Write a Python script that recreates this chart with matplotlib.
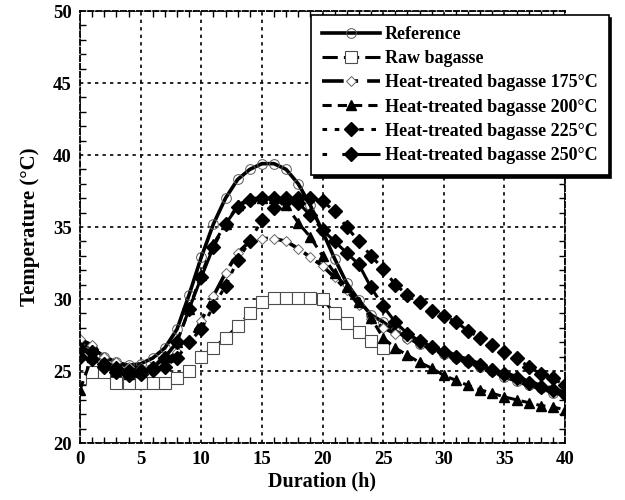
import matplotlib
matplotlib.use('Agg')
import matplotlib.pyplot as plt
from matplotlib.ticker import MultipleLocator

# --- dados ---
hours = list(range(0, 41))

reference = [27.0, 26.6, 26.0, 25.6, 25.4, 25.5, 25.9, 26.6, 27.9, 30.3,
             32.9, 35.2, 37.0, 38.3, 39.0, 39.4, 39.4, 39.0, 38.0, 36.5,
             34.7, 32.8, 31.1, 29.9, 28.9, 28.4, 27.8, 27.3, 26.9, 26.6,
             26.2, 25.9, 25.6, 25.3, 25.0, 24.6, 24.3, 24.0, 23.8, 23.5, 23.3]

raw_hours = list(range(0, 26))
raw = [24.5, 24.9, 24.9, 24.2, 24.2, 24.2, 24.2, 24.2, 24.5, 25.0,
       26.0, 26.6, 27.3, 28.1, 29.0, 29.8, 30.1, 30.1, 30.1, 30.1,
       30.0, 29.0, 28.3, 27.7, 27.1, 26.6]

ht175 = [27.2, 26.8, 26.0, 25.6, 25.3, 25.2, 25.3, 25.7, 26.3, 27.0,
         28.5, 30.2, 31.8, 33.2, 34.0, 34.2, 34.2, 34.0, 33.5, 32.9,
         32.3, 31.5, 30.6, 29.6, 28.6, 28.0, 27.6, 27.2, 26.9, 26.6,
         26.4, 26.1, 25.8, 25.5, 25.2, 24.9, 24.6, 24.3, 24.0, 23.8, 23.5]

ht200 = [23.7, 26.0, 25.5, 25.0, 24.8, 24.9, 25.3, 26.0, 27.0, 29.3,
         31.7, 33.8, 35.2, 36.5, 37.0, 37.0, 37.0, 36.5, 35.3, 34.3,
         33.0, 31.8, 30.8, 29.8, 28.7, 27.3, 26.6, 26.1, 25.6, 25.2,
         24.7, 24.35, 24.0, 23.7, 23.45, 23.2, 23.0, 22.8, 22.6, 22.5, 22.3]

ht225 = [26.5, 26.3, 25.5, 25.2, 25.0, 25.0, 25.1, 25.3, 25.9, 27.0,
         27.9, 29.5, 30.9, 32.7, 34.0, 35.5, 36.3, 36.8, 37.0, 37.0,
         36.8, 36.1, 35.0, 34.0, 33.0, 32.1, 31.0, 30.3, 29.8, 29.2,
         28.85, 28.4, 27.8, 27.3, 26.8, 26.3, 25.9, 25.3, 24.8, 24.5, 24.0]

ht250 = [26.0, 25.8, 25.3, 24.9, 24.7, 24.8, 25.2, 25.9, 27.0, 29.3,
         31.5, 33.6, 35.2, 36.4, 36.9, 37.0, 37.0, 37.0, 36.7, 35.8,
         34.8, 34.0, 33.2, 32.4, 30.8, 29.5, 28.4, 27.6, 27.1, 26.7,
         26.3, 26.0, 25.7, 25.4, 25.1, 24.8, 24.5, 24.2, 23.9, 23.7, 23.4]

plt.rcParams['font.family'] = ['Liberation Serif', 'DejaVu Serif']
plt.rcParams['font.weight'] = 'bold'

fig = plt.figure(figsize=(6.25, 5), dpi=100)
ax = fig.add_axes([0.128, 0.114, 0.776, 0.864])

ax.plot(hours, reference, '-', color='black', lw=2.6, marker='o', ms=7,
        mfc='none', mec='0.35', mew=0.7, label='Reference')
ax.plot(raw_hours, raw, color='black', lw=2.2, ls=(0, (5, 2)), marker='s', ms=8,
        mfc='white', mec='0.3', mew=0.8, label='Raw bagasse')
ax.plot(hours, ht175, color='black', lw=2.6, ls=(0, (6, 2.5, 1.5, 2.5)), marker='D', ms=5.5,
        mfc='white', mec='0.4', mew=0.7, label='Heat-treated bagasse 175°C')
ax.plot(hours, ht200, color='black', lw=2.2, ls=(0, (3, 2)), marker='^', ms=7.5,
        mfc='black', mec='black', label='Heat-treated bagasse 200°C')
ax.plot(hours, ht225, color='black', lw=2.2, ls=(0, (1.5, 2.5)), marker='D', ms=7.5,
        mfc='black', mec='black', label='Heat-treated bagasse 225°C')
ax.plot(hours, ht250, color='black', lw=2.2, ls=(0, (1.5, 5, 30, 0.01)), marker='D', ms=7.5,
        mfc='black', mec='black', label='Heat-treated bagasse 250°C')

ax.set_xlim(0, 40)
ax.set_ylim(20, 50)
ax.xaxis.set_major_locator(MultipleLocator(5))
ax.xaxis.set_minor_locator(MultipleLocator(1))
ax.yaxis.set_major_locator(MultipleLocator(5))
ax.yaxis.set_minor_locator(MultipleLocator(1))
ax.tick_params(which='both', direction='in', top=True, right=True, width=1)
ax.tick_params(which='major', length=0, labelsize=13.5, pad=6)
ax.tick_params(which='minor', length=4)
for lab in ax.get_xticklabels() + ax.get_yticklabels():
    lab.set_fontweight('bold')

ax.grid(True, which='major', color='black', ls=(0, (2, 2.5)), lw=1.2)
for sp in ax.spines.values():
    sp.set_linestyle((0, (3, 1.5)))
    sp.set_linewidth(1.3)

ax.set_xlabel('Duration (h)', fontsize=14.5, fontweight='bold', labelpad=2)
ax.set_ylabel('Temperature (°C)', fontsize=15, fontweight='bold', labelpad=9)

leg = ax.legend(loc='upper left', bbox_to_anchor=(311 / 625, 1 - 15 / 500),
                bbox_transform=fig.transFigure, fontsize=13, frameon=True,
                fancybox=False, edgecolor='black', framealpha=1,
                shadow={'color': 'black', 'alpha': 1},
                handlelength=3.2, handletextpad=0.3, labelspacing=0.4,
                borderpad=0.6, borderaxespad=0)
leg.get_frame().set_linewidth(1.2)
for t in leg.get_texts():
    t.set_fontweight('bold')

fig.savefig('out.png', dpi=100)
